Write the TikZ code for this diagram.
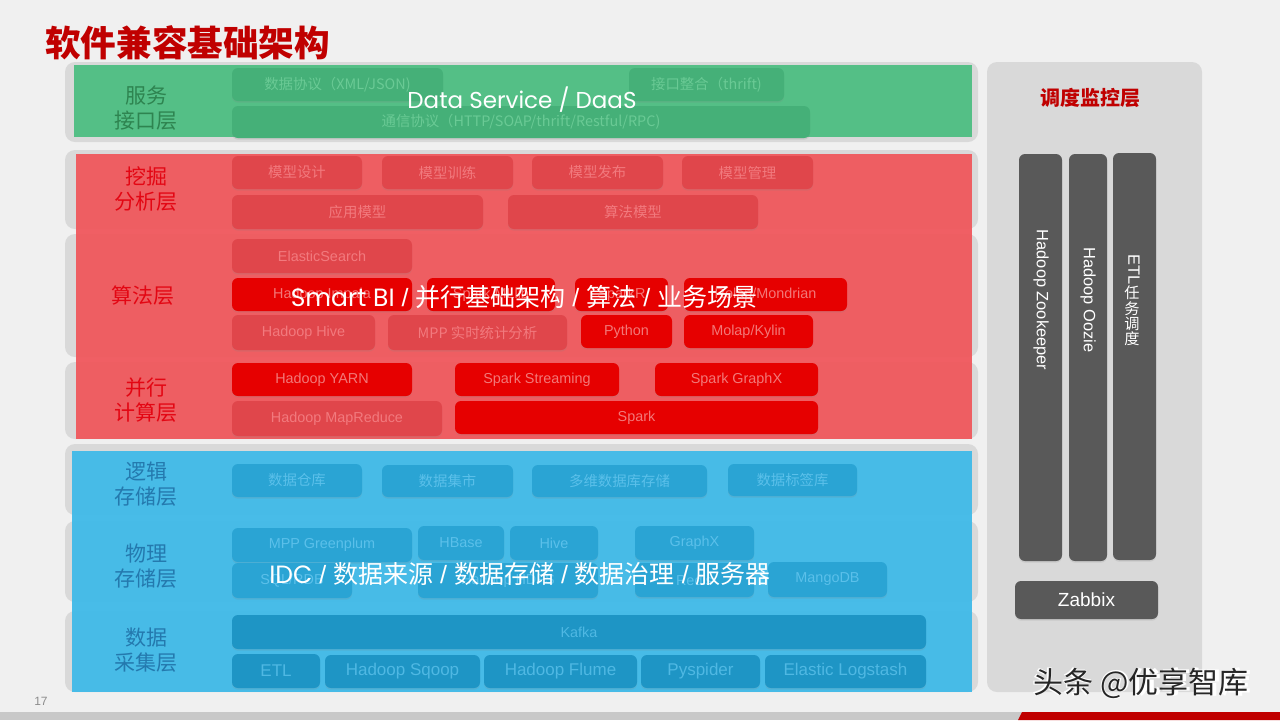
\documentclass[tikz,border=0pt]{standalone}
\usepackage{fontspec}
\setmainfont{Liberation Sans}
\newfontfamily\cjk{Noto Sans CJK SC}
\newfontfamily\geo{Poppins}
\usetikzlibrary{shadows}
\definecolor{pagebg}{HTML}{F0F0F0}
\definecolor{panel}{HTML}{D9D9D9}
\definecolor{gover}{HTML}{4DBE82}
\definecolor{rover}{HTML}{F0555A}
\definecolor{bover}{HTML}{40BAE8}
\definecolor{gboxc}{HTML}{45B078}
\definecolor{gtxt}{HTML}{6ACA95}
\definecolor{rdarkc}{HTML}{E0464B}
\definecolor{rdtxt}{HTML}{F27A7E}
\definecolor{rbrightc}{HTML}{E60000}
\definecolor{rbtxt}{HTML}{F27878}
\definecolor{bboxc}{HTML}{2AA4D4}
\definecolor{btxt}{HTML}{5BC0EA}
\definecolor{kboxc}{HTML}{1E95C5}
\definecolor{ktxt}{HTML}{4FB8E3}
\definecolor{darkbox}{HTML}{595959}
\definecolor{glabel}{HTML}{2E8450}
\definecolor{rlabel}{HTML}{E30613}
\definecolor{blabel}{HTML}{2479AE}
\definecolor{titlered}{HTML}{C00000}
\definecolor{stripgray}{HTML}{C8C8C8}
\newcommand\bxx[7]{\node[#2, minimum width={(#5-#3)*0.5pt}, minimum height={(#6-#4)*0.5pt}] (#1) at ({(#3+#5)/2},{(#4+#6)/2}) {#7};}
\tikzset{
  base/.style={rounded corners=3pt, inner sep=0pt, anchor=center, drop shadow={opacity=0.18, shadow xshift=0pt, shadow yshift=-0.8pt}},
  gbox/.style={base, fill=gboxc, text=gtxt, font=\fontsize{7.2}{8}\selectfont},
  rdark/.style={base, fill=rdarkc, text=rdtxt, font=\fontsize{7.2}{8}\selectfont},
  rbright/.style={base, fill=rbrightc, text=rbtxt, font=\fontsize{7.2}{8}\selectfont},
  bbox/.style={base, fill=bboxc, text=btxt, font=\fontsize{7.2}{8}\selectfont},
  kbox/.style={base, fill=kboxc, text=ktxt, font=\fontsize{7.2}{8}\selectfont},
  kbox2/.style={base, fill=kboxc, text=ktxt, font=\fontsize{8.5}{9}\selectfont},
  dbox/.style={base, fill=darkbox, text=white},
  layerlabel/.style={align=center, font=\cjk\fontsize{10.5}{12.5}\selectfont},
  overtext/.style={text=white, font=\fontsize{12.5}{14}\selectfont},
  panelbox/.style={fill=panel, rounded corners=5pt}
}
\begin{document}
\begin{tikzpicture}[x=0.5pt, y=-0.5pt]
\useasboundingbox (0,0) rectangle (1280,720);
\fill[pagebg] (0,0) rectangle (1280,720);
% title
\node[anchor=west, text=titlered, font=\cjk\bfseries\fontsize{17.8}{20}\selectfont, inner sep=0pt] (title) at (45,43) {软件兼容基础架构};
% row panels
\fill[panelbox] (65,62) rectangle (978,142);
\fill[panelbox] (65,150) rectangle (978,229);
\fill[panelbox] (65,234) rectangle (978,357);
\fill[panelbox] (65,362) rectangle (978,439);
\fill[panelbox] (65,444) rectangle (978,515);
\fill[panelbox] (65,521) rectangle (978,602);
\fill[panelbox] (65,611) rectangle (978,692);
% right panel
\fill[panelbox] (987,62) rectangle (1202,692);
% colored overlays
\fill[gover, opacity=0.95] (74,65) rectangle (972,137);
\fill[rover, opacity=0.93] (76,154) rectangle (972,439);
\fill[bover, opacity=0.95] (72,451) rectangle (972,692);
% layer labels
\node[layerlabel, text=glabel] (L1) at (146,108) {服务\\接口层};
\node[layerlabel, text=rlabel] (L2) at (146,189) {挖掘\\分析层};
\node[layerlabel, text=rlabel] (L3) at (143,296) {算法层};
\node[layerlabel, text=rlabel] (L4) at (146,400) {并行\\计算层};
\node[layerlabel, text=blabel] (L5) at (146,484) {逻辑\\存储层};
\node[layerlabel, text=blabel] (L6) at (146,566) {物理\\存储层};
\node[layerlabel, text=blabel] (L7) at (146,650) {数据\\采集层};
% green boxes
\bxx{g1}{gbox}{232}{68}{443}{101}{\cjk 数据协议（XML/JSON)}
\bxx{g2}{gbox}{629}{68}{784}{101}{\cjk 接口整合（thrift)}
\bxx{g3}{gbox}{232}{106}{810}{138}{\cjk 通信协议（HTTP/SOAP/thrift/Restful/RPC)}
% mining
\bxx{m1}{rdark}{232}{156}{362}{189}{\cjk 模型设计}
\bxx{m2}{rdark}{382}{156}{513}{189}{\cjk 模型训练}
\bxx{m3}{rdark}{532}{156}{663}{189}{\cjk 模型发布}
\bxx{m4}{rdark}{682}{156}{813}{189}{\cjk 模型管理}
\bxx{m5}{rdark}{232}{195}{483}{229}{\cjk 应用模型}
\bxx{m6}{rdark}{508}{195}{758}{229}{\cjk 算法模型}
% algorithm
\bxx{a1}{rdark}{232}{239}{412}{273}{ElasticSearch}
\bxx{a2}{rbright}{232}{278}{412}{311}{Hadoop Impala}
\bxx{a3}{rbright}{427}{278}{555}{311}{Spark MLlib}
\bxx{a4}{rbright}{575}{278}{668}{311}{SparkR}
\bxx{a5}{rbright}{684}{278}{847}{311}{Rolap/Mondrian}
\bxx{a6}{rdark}{232}{315}{375}{350}{Hadoop Hive}
\bxx{a7}{rdark}{388}{315}{567}{350}{\cjk MPP 实时统计分析}
\bxx{a8}{rbright}{581}{315}{672}{348}{Python}
\bxx{a9}{rbright}{684}{315}{813}{348}{Molap/Kylin}
% parallel
\bxx{p1}{rbright}{232}{363}{412}{396}{Hadoop YARN}
\bxx{p2}{rbright}{455}{363}{619}{396}{Spark Streaming}
\bxx{p3}{rbright}{655}{363}{818}{396}{Spark GraphX}
\bxx{p4}{rdark}{232}{401}{442}{436}{Hadoop MapReduce}
\bxx{p5}{rbright}{455}{401}{818}{434}{Spark}
% logical storage
\bxx{l1}{bbox}{232}{464}{362}{497}{\cjk 数据仓库}
\bxx{l2}{bbox}{382}{465}{513}{497}{\cjk 数据集市}
\bxx{l3}{bbox}{532}{465}{707}{497}{\cjk 多维数据库存储}
\bxx{l4}{bbox}{728}{464}{857}{496}{\cjk 数据标签库}
% physical storage
\bxx{s1}{bbox}{232}{528}{412}{562}{MPP Greenplum}
\bxx{s2}{bbox}{418}{526}{504}{560}{HBase}
\bxx{s3}{bbox}{510}{526}{598}{560}{Hive}
\bxx{s4}{bbox}{635}{526}{754}{560}{GraphX}
\bxx{s5}{bbox}{232}{563}{352}{598}{SQL/RDB}
\bxx{s6}{bbox}{418}{563}{598}{598}{Hadoop HDFS}
\bxx{s7}{bbox}{635}{563}{754}{597}{Redis}
\bxx{s8}{bbox}{768}{562}{887}{597}{MangoDB}
% collection
\bxx{c0}{kbox}{232}{615}{926}{649}{Kafka}
\bxx{c1}{kbox2}{232}{654}{320}{688}{ETL}
\bxx{c2}{kbox2}{325}{655}{480}{688}{Hadoop Sqoop}
\bxx{c3}{kbox2}{484}{655}{637}{688}{Hadoop Flume}
\bxx{c4}{kbox2}{641}{655}{760}{688}{Pyspider}
\bxx{c5}{kbox2}{765}{655}{926}{688}{Elastic Logstash}
% overlay texts
\node[overtext, font=\geo\fontsize{11.5}{13}\selectfont] (t1) at (522,100) {Data Service / DaaS};
\node[overtext] (t2) at (524,297) {{\geo Smart BI} / {\cjk 并行基础架构} / {\cjk 算法} / {\cjk 业务场景}};
\node[overtext] (t3) at (520,574) {{\geo IDC} / {\cjk 数据来源} / {\cjk 数据存储} / {\cjk 数据治理} / {\cjk 服务器}};
% right side
\node[text=titlered, font=\cjk\bfseries\fontsize{10}{12}\selectfont] (sched) at (1090,98) {调度监控层};
\bxx{z1}{dbox}{1019}{154}{1062}{561}{}
\bxx{z2}{dbox}{1069}{154}{1107}{561}{}
\bxx{z3}{dbox}{1113}{153}{1156}{560}{}
\node[rotate=-90, text=white, font=\fontsize{8.2}{9}\selectfont] (zk) at (1041,300) {Hadoop Zookeeper};
\node[rotate=-90, text=white, font=\fontsize{8.2}{9}\selectfont] (oz) at (1088,300) {Hadoop Oozie};
\node[rotate=-90, text=white, font=\fontsize{8.2}{9}\selectfont] (etl) at (1134,270) {ETL};
\node[text=white, align=center, font=\cjk\fontsize{7.6}{7.6}\selectfont, inner sep=0pt] (etlcn) at (1132,316) {任\\务\\调\\度};
\bxx{zb}{dbox, font=\fontsize{9.5}{10}\selectfont}{1015}{581}{1158}{619}{\raisebox{-2pt}{Zabbix}}
% watermark
\node[text=white, font=\cjk\bfseries\fontsize{15}{17}\selectfont] at (1142,684) {头条 @优享智库};
\node[text=black!85, font=\cjk\fontsize{15}{17}\selectfont] (wm) at (1141,683) {头条 @优享智库};
% footer
\node[text=black!45, font=\fontsize{6}{7}\selectfont] (pg) at (41,701) {17};
\fill[stripgray] (0,712) rectangle (1280,720);
\fill[titlered] (1022,712) -- (1280,712) -- (1280,720) -- (1018,720) -- cycle;
\end{tikzpicture}
\end{document}
